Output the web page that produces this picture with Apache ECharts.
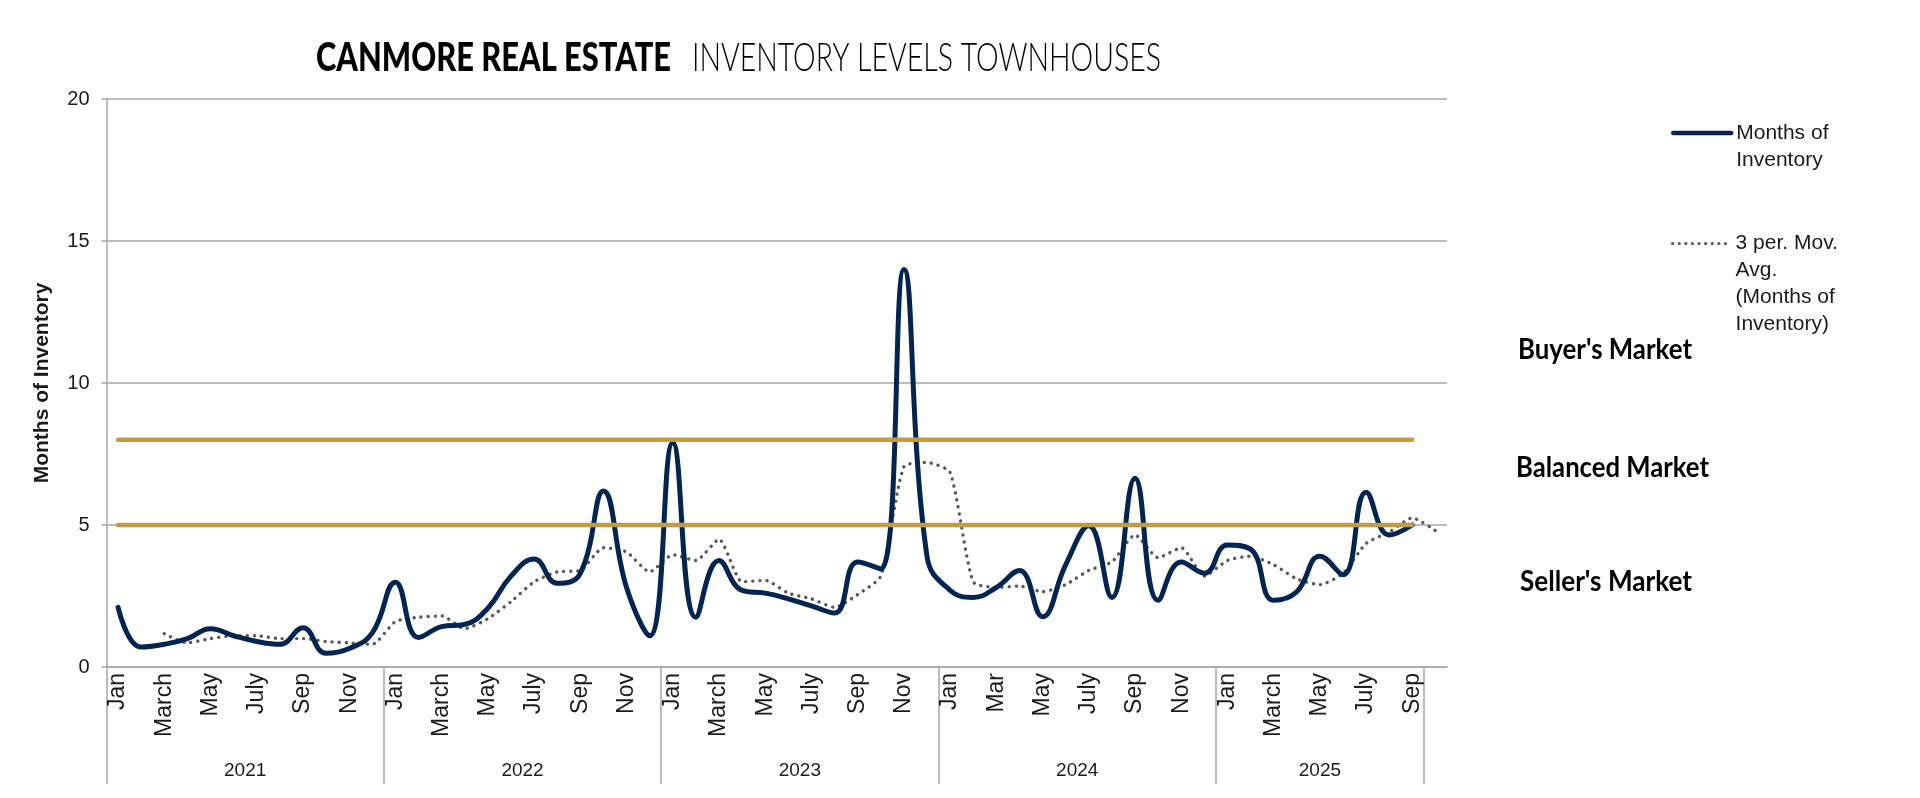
<!DOCTYPE html>
<html>
<head>
<meta charset="utf-8">
<style>
html,body{margin:0;padding:0;background:#fff;}
#chart{width:1920px;height:798px;}
</style>
<script src="https://cdn.jsdelivr.net/npm/echarts@6/dist/echarts.min.js"></script>
</head>
<body>
<div id="chart"></div>
<script>
// ---- data ----
const years = ['2021', '2022', '2023', '2024', '2025'];
const months2021 = ['Jan','Feb','March','Apr','May','June','July','Aug','Sep','Oct','Nov','Dec'];
const months2022 = ['Jan','Feb','March','Apr','May','June','July','Aug','Sep','Oct','Nov','Dec'];
const months2023 = ['Jan','Feb','March','Apr','May','June','July','Aug','Sep','Oct','Nov','Dec'];
const months2024 = ['Jan','Feb','Mar','Apr','May','June','July','Aug','Sep','Oct','Nov','Dec'];
const months2025 = ['Jan','Feb','March','Apr','May','June','July','Aug','Sep'];
const trailing = [''];

const monthsOfInventory = [
  2.1, 0.7, 0.8, 1.0, 1.35, 1.1, 0.9, 0.8, 1.38, 0.48, 0.65, 1.2,
  2.98, 1.04, 1.42, 1.5, 2.07, 3.2, 3.8, 2.95, 3.3, 6.2, 2.8, 1.1,
  7.9, 1.75, 3.75, 2.7, 2.6, 2.4, 2.15, 1.9, 3.7, 3.45, 14.0, 3.9,
  2.7, 2.45, 2.8, 3.4, 1.77, 3.6, 4.97, 2.45, 6.65, 2.35, 3.7, 3.3,
  4.3, 4.15, 2.35, 2.65, 3.9, 3.25, 6.15, 4.65, 5.0,
  null
];
const movingAvg3 = [
  null, null, 1.17, 0.85, 1.0, 1.1, 1.1, 1.0, 1.0, 0.9, 0.85, 0.8,
  1.6, 1.75, 1.8, 1.35, 1.7, 2.3, 3.0, 3.35, 3.4, 4.2, 4.05, 3.35,
  3.95, 3.75, 4.5, 3.0, 3.05, 2.6, 2.4, 2.1, 2.55, 3.2, 7.05, 7.2,
  6.85, 3.0, 2.8, 2.85, 2.65, 2.9, 3.4, 3.7, 4.65, 3.85, 4.2, 3.2,
  3.75, 3.9, 3.6, 3.1, 2.9, 3.3, 4.35, 4.75, 5.25,
  4.8
];
const balancedMin = 5;   // below = seller's market
const buyersMin = 8;     // above = buyer's market
const yTicks = [0, 5, 10, 15, 20];
const titleBold = 'CANMORE REAL ESTATE';
const titleLight = 'INVENTORY LEVELS TOWNHOUSES';
const zoneLabels = ["Buyer's Market", 'Balanced Market', "Seller's Market"];

// ---- derived tables ----
const yearMonths = [months2021, months2022, months2023, months2024, months2025];
const categories = [].concat(...yearMonths, trailing);
const yearBounds = [0];
yearMonths.forEach(m => yearBounds.push(yearBounds[yearBounds.length - 1] + m.length));
const yearCenters = years.map((y, i) => (yearBounds[i] + yearBounds[i + 1]) / 2);
const lastIdx = yearBounds[yearBounds.length - 1] - 1;
const thresholdLine = v => [[0, v], [lastIdx, v]];

const NAVY = '#032550';
const GOLD = '#C49B3E';
const GRID = '#A6A6A6';
const GREY = '#595959';
const TXT = '#1a1a1a';
const FONT = 'Liberation Sans';

// condensed-look text: scale a regular font horizontally to a target width
const ctx = document.createElement('canvas').getContext('2d');
function fitScale(text, font, w) { ctx.font = font; return w / ctx.measureText(text).width; }
function condText(text, font, x, y, w) {
  return {
    type: 'text', x: x, y: y, scaleX: fitScale(text, font, w), silent: true,
    style: {text: text, font: font, fill: '#000', verticalAlign: 'middle', align: 'left'}
  };
}
const TB = '900 39px Lato';
const TL = '300 39px Lato';
const ZF = 'bold 29px Lato';

const chart = echarts.init(document.getElementById('chart'), null, {renderer: 'canvas'});
chart.setOption({
  animation: false,
  backgroundColor: '#fff',
  legend: [
    {
      data: ['Months of Inventory'],
      orient: 'vertical', left: 1671, top: 92.5, padding: 0,
      itemWidth: 58, itemHeight: 14,
      itemStyle: {opacity: 0},
      lineStyle: {width: 4.5, color: NAVY},
      formatter: () => '\nMonths of\nInventory',
      textStyle: {fontFamily: FONT, fontSize: 21, color: TXT, lineHeight: 27}
    },
    {
      data: ['3 per. Mov. Avg. (Months of Inventory)'],
      orient: 'vertical', left: 1671, top: 149, padding: 0,
      itemWidth: 58, itemHeight: 14,
      itemStyle: {opacity: 0},
      lineStyle: {width: 3.2, color: GREY, type: [0.1, 6.5], cap: 'round'},
      formatter: () => '\n\n\n3 per. Mov.\nAvg.\n(Months of\nInventory)',
      textStyle: {fontFamily: FONT, fontSize: 21, color: TXT, lineHeight: 27}
    }
  ],
  grid: {left: 106.5, right: 473, top: 99, bottom: 131, containLabel: false},
  xAxis: [
    {
      type: 'category',
      data: categories,
      boundaryGap: true,
      axisLine: {show: true, lineStyle: {color: GRID, width: 1.5}},
      axisTick: {show: false},
      axisLabel: {
        interval: 1, rotate: 90, margin: 6,
        fontFamily: FONT, fontSize: 23, color: TXT
      },
      splitLine: {show: false}
    },
    {
      type: 'value',
      position: 'bottom',
      min: 0, max: categories.length,
      axisLine: {show: false},
      axisTick: {
        show: true, length: 117, customValues: yearBounds,
        lineStyle: {color: GRID, width: 1.5}
      },
      axisLabel: {
        show: true, customValues: yearCenters, margin: 94,
        formatter: v => years[yearCenters.indexOf(v)] || '',
        fontFamily: FONT, fontSize: 19, color: TXT
      },
      splitLine: {show: false}
    }
  ],
  yAxis: {
    type: 'value', min: yTicks[0], max: yTicks[yTicks.length - 1], interval: 5,
    name: 'Months of Inventory', nameLocation: 'middle', nameRotate: 90, nameGap: 54,
    nameTextStyle: {fontFamily: FONT, fontWeight: 'bold', fontSize: 21, color: TXT},
    axisLine: {show: true, lineStyle: {color: GRID, width: 1.5}},
    axisTick: {show: true, length: 5, lineStyle: {color: GRID, width: 1.5}},
    axisLabel: {margin: 17, fontFamily: FONT, fontSize: 20, color: TXT},
    splitLine: {show: true, lineStyle: {color: GRID, width: 1.5}}
  },
  series: [
    {
      name: 'Months of Inventory', type: 'line', xAxisIndex: 0,
      data: monthsOfInventory, smooth: 0.45, symbol: 'none',
      lineStyle: {color: NAVY, width: 5, cap: 'round', join: 'round'},
      itemStyle: {color: NAVY}, z: 3
    },
    {
      name: '3 per. Mov. Avg. (Months of Inventory)', type: 'line', xAxisIndex: 0,
      data: movingAvg3, smooth: 0.2, symbol: 'none',
      lineStyle: {color: GREY, width: 3.4, type: [0.1, 7], cap: 'round'},
      itemStyle: {color: GREY}, z: 2
    },
    {
      name: 'Buyers', type: 'line', xAxisIndex: 0, data: thresholdLine(buyersMin),
      symbol: 'none', lineStyle: {color: GOLD, width: 4.5, cap: 'round'}, z: 4, silent: true
    },
    {
      name: 'Balanced', type: 'line', xAxisIndex: 0, data: thresholdLine(balancedMin),
      symbol: 'none', lineStyle: {color: GOLD, width: 4.5, cap: 'round'}, z: 4, silent: true
    }
  ],
  graphic: [
    condText(titleBold, TB, 316, 58, 355),
    condText(titleLight, TL, 692, 58, 469),
    condText(zoneLabels[0], ZF, 1518, 350, 174),
    condText(zoneLabels[1], ZF, 1516, 468, 193),
    condText(zoneLabels[2], ZF, 1520, 582, 172)
  ]
});
</script>
</body>
</html>
